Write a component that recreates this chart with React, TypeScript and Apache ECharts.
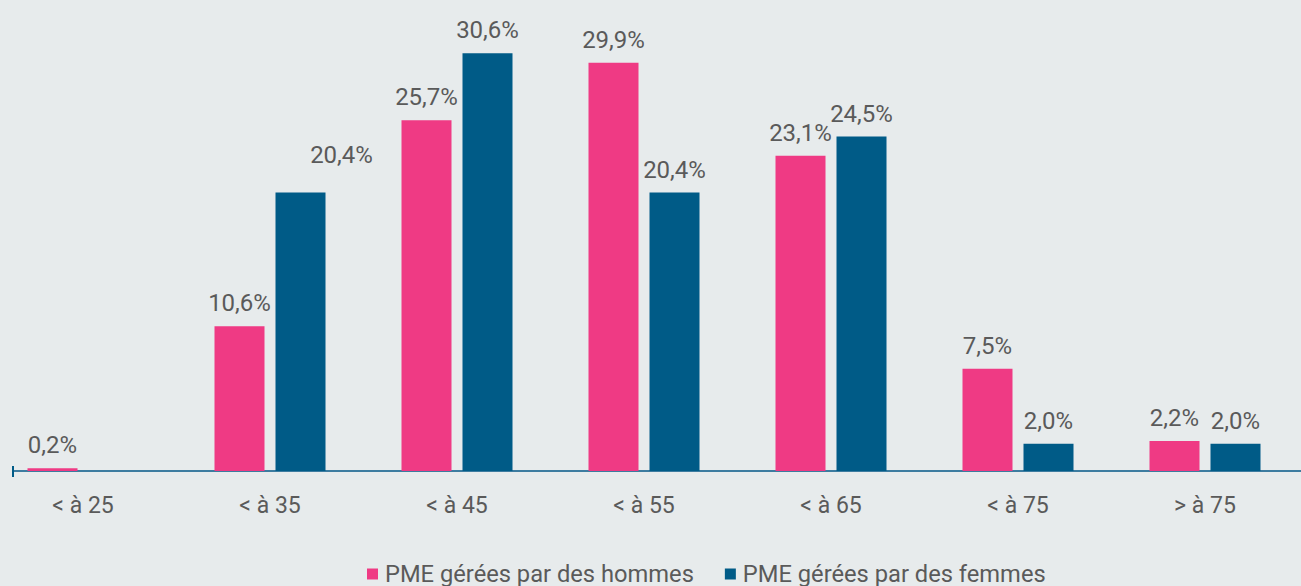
import React, { useEffect, useRef } from "react";
import * as echarts from "echarts";

const categories = ["< à 25", "< à 35", "< à 45", "< à 55", "< à 65", "< à 75", "> à 75"];
const menValues = [0.2, 10.6, 25.7, 29.9, 23.1, 7.5, 2.2];
const womenValues: (number | string)[] = ["-", 20.4, 30.6, 20.4, 24.5, 2.0, 2.0];
const seriesNames = ["PME gérées par des hommes", "PME gérées par des femmes"];

const PINK = "#ef3a84";
const BLUE = "#005b87";
const TEXT = "#5a5a5a";
const BG = "#e7ebec";
const SHIFT = 11; // container starts 11px left of the page

const fmt = (v: number) => v.toFixed(1).replace(".", ",") + "%";

export default function App() {
  const ref = useRef<HTMLDivElement>(null);
  useEffect(() => {
    if (!ref.current) return;
    const chart = echarts.init(ref.current, null, { renderer: "svg" });
    const labelBase = {
      show: true,
      position: "top",
      distance: 11,
      fontSize: 24,
      color: TEXT,
      fontFamily: "Roboto",
      formatter: (p: any) => fmt(p.value),
    };
    chart.setOption({
      animation: false,
      backgroundColor: BG,
      textStyle: { fontFamily: "Roboto" },
      grid: { left: 0.5, width: 1309, top: 34.2, bottom: 115 },
      xAxis: {
        type: "category",
        data: categories,
        axisLine: { show: false },
        axisTick: { show: false },
        axisLabel: { fontSize: 23, color: TEXT, margin: 23, fontFamily: "Roboto" },
      },
      yAxis: {
        type: "value",
        min: 0,
        max: 32,
        show: false,
        splitLine: { show: false },
      },
      legend: {
        left: 362 + SHIFT,
        top: 557,
        itemWidth: 11,
        itemHeight: 11,
        itemGap: 31,
        icon: "rect",
        textStyle: { fontSize: 23.7, color: TEXT, fontFamily: "Roboto", padding: [0, 0, 0, 2] },
        data: seriesNames,
      },
      graphic: [
        {
          type: "line",
          shape: { x1: 12 + SHIFT, y1: 471, x2: 1301 + SHIFT, y2: 471 },
          style: { stroke: "#3d7ca0", lineWidth: 2 },
          z: 1,
        },
        {
          type: "line",
          shape: { x1: 13 + SHIFT, y1: 466, x2: 13 + SHIFT, y2: 477 },
          style: { stroke: BLUE, lineWidth: 2 },
          z: 1,
        },
      ],
      series: [
        {
          name: seriesNames[0],
          type: "bar",
          data: menValues,
          barWidth: 50,
          barGap: "22%",
          itemStyle: { color: PINK },
          label: labelBase,
          z: 3,
        },
        {
          name: seriesNames[1],
          type: "bar",
          data: womenValues.map((v, i) =>
            i === 1 ? { value: v, label: { offset: [41, -15] } } : v
          ),
          barWidth: 50,
          itemStyle: { color: BLUE },
          label: labelBase,
          z: 3,
        },
      ],
    });
    return () => chart.dispose();
  }, []);
  return (
    <div
      ref={ref}
      style={{ position: "fixed", left: -SHIFT, top: 0, width: 1301 + SHIFT, height: 586 }}
    />
  );
}
